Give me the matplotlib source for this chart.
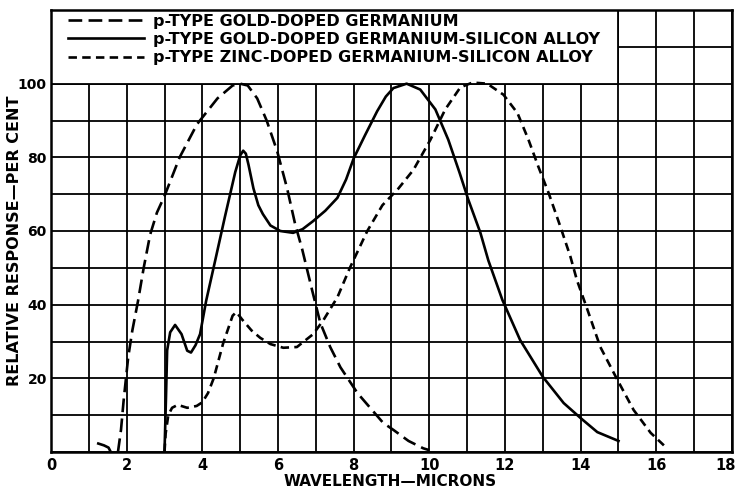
import matplotlib
matplotlib.use("Agg")
import matplotlib.pyplot as plt
import matplotlib.transforms as mtransforms
from matplotlib.patches import Rectangle
from matplotlib.ticker import MultipleLocator

plt.rcParams['font.family'] = ['DejaVu Sans']

# --- data ---
labels = ["p-TYPE GOLD-DOPED GERMANIUM",
          "p-TYPE GOLD-DOPED GERMANIUM-SILICON ALLOY",
          "p-TYPE ZINC-DOPED GERMANIUM-SILICON ALLOY"]

gold_ge_hook_x = [1.25, 1.4, 1.52, 1.58]
gold_ge_hook_y = [2.3, 1.8, 1.2, 0.0]

gold_ge_x = [1.77, 1.85, 1.92, 2.04, 2.15, 2.3, 2.45, 2.62, 2.8, 3.0, 3.4, 3.86,
             4.4, 4.8, 5.0, 5.2, 5.45, 5.7, 5.98, 6.24, 6.45, 6.64, 6.9, 7.12,
             7.38, 7.65, 8.1, 8.78, 9.05, 9.45, 9.84, 10.0]
gold_ge_y = [0, 6, 14, 25.7, 33, 41, 50, 59, 65, 69.5, 80, 89,
             96, 99.5, 100, 99.5, 96, 90, 81.6, 71.6, 62, 55, 44, 35,
             28.5, 23, 16, 7.9, 6, 3, 1, 0.5]

gold_gesi_x = [3.0, 3.04, 3.07, 3.15, 3.28, 3.45, 3.6, 3.7, 3.82, 3.94, 4.1, 4.34,
               4.6, 4.87, 5.0, 5.08, 5.15, 5.22, 5.35, 5.48, 5.6, 5.8, 6.06, 6.4,
               6.65, 6.93, 7.25, 7.57, 7.8, 8.0, 8.3, 8.62, 8.85, 9.05, 9.4, 9.76,
               10.16, 10.5, 10.8, 11.03, 11.35, 11.56, 11.93, 12.4, 13.0, 13.55,
               14.0, 14.44, 15.0]
gold_gesi_y = [0, 15, 27.6, 32.5, 34.5, 32, 27.5, 27, 29, 32, 41, 52,
               64, 76, 80.5, 81.8, 81, 78, 71.6, 67, 64.6, 61.5, 60, 59.5,
               60.5, 62.7, 65.5, 69, 74, 79.7, 86, 92.5, 96.5, 98.8, 100, 98.4,
               93, 84.8, 75.8, 68.5, 59.5, 52, 41.3, 30.4, 20.4, 13.3,
               9.2, 5.4, 3]

zinc_gesi_x = [3.0, 3.03, 3.1, 3.2, 3.35, 3.6, 3.85, 4.0, 4.15, 4.3, 4.55, 4.8,
               4.9, 5.05, 5.3, 5.53, 5.8, 6.14, 6.5, 6.93, 7.2, 7.57, 7.9, 8.36,
               8.76, 9.18, 9.58, 10.03, 10.42, 10.82, 11.14, 11.53, 11.96, 12.33,
               12.62, 12.88, 13.15, 13.47, 13.73, 13.9, 14.18, 14.52, 14.97, 15.4,
               15.85, 16.2]
zinc_gesi_y = [0, 5, 10, 12, 12.8, 12, 12.5, 13.5, 16, 20, 29.5, 37,
               38, 36, 33, 31, 29.3, 28.3, 28.5, 32, 35.8, 42, 50, 60,
               67, 71.5, 76.6, 84.8, 93, 99, 100.3, 100, 97, 92,
               84.8, 77.5, 70.4, 61, 53, 46.7, 38.6, 28.5, 19.6, 11.4,
               5.2, 1.8]

xticks = [0, 2, 4, 6, 8, 10, 12, 14, 16, 18]
yticks = [20, 40, 60, 80, 100]

# --- figure ---
fig = plt.figure(figsize=(7.35, 4.91), dpi=100)
ax = fig.add_axes([51/735, 1 - 452/491, 681/735, 442/491])
ax.set_xlim(0, 18)
ax.set_ylim(0, 120)

ax.xaxis.set_minor_locator(MultipleLocator(1))
ax.yaxis.set_minor_locator(MultipleLocator(10))
ax.set_xticks(xticks)
ax.set_yticks(yticks)
ax.set_xticklabels([str(v) for v in xticks], fontsize=10.5, fontweight='bold')
ax.set_yticklabels([str(v) for v in yticks], fontsize=10, fontweight='bold')
ax.tick_params(which='both', length=0)
ax.tick_params(axis='x', pad=4)
ax.tick_params(axis='y', pad=3)
ax.grid(True, which='both', color='black', linewidth=1.3)
ax.set_axisbelow(True)
for s in ax.spines.values():
    s.set_linewidth(1.8)

# keep the last x tick label inside the figure
last = ax.get_xticklabels()[-1]
last.set_transform(last.get_transform() +
                   mtransforms.ScaledTranslation(-6/100, 0, fig.dpi_scale_trans))

# legend blank area
ax.add_patch(Rectangle((0, 100), 15, 20, facecolor='white', edgecolor='black',
                       linewidth=1.3, zorder=1.5))

lw = 1.9
ax.plot(gold_ge_hook_x, gold_ge_hook_y, color='black', lw=lw, zorder=3)
ax.plot(gold_ge_x, gold_ge_y, color='black', lw=lw, dashes=(5.2, 2.4),
        label=labels[0], zorder=3)
ax.plot(gold_gesi_x, gold_gesi_y, color='black', lw=lw, label=labels[1], zorder=3)
ax.plot(zinc_gesi_x, zinc_gesi_y, color='black', lw=lw, dashes=(3.2, 2.0),
        label=labels[2], zorder=3)

leg = ax.legend(loc='upper left', bbox_to_anchor=(0.022, 0.995), frameon=False,
                prop={'size': 11.5, 'weight': 'bold'}, handlelength=4.8,
                handletextpad=0.55, labelspacing=0.2, borderpad=0.1,
                borderaxespad=0)
leg.set_zorder(4)

ax.set_xlabel("WAVELENGTH—MICRONS", fontsize=11, fontweight='bold')
ax.xaxis.set_label_coords(0.498, -0.050)
ax.set_ylabel("RELATIVE RESPONSE—PER CENT", fontsize=11.5, fontweight='bold')
ax.yaxis.set_label_coords(-0.043, 0.477)

fig.savefig("out.png", dpi=100)
